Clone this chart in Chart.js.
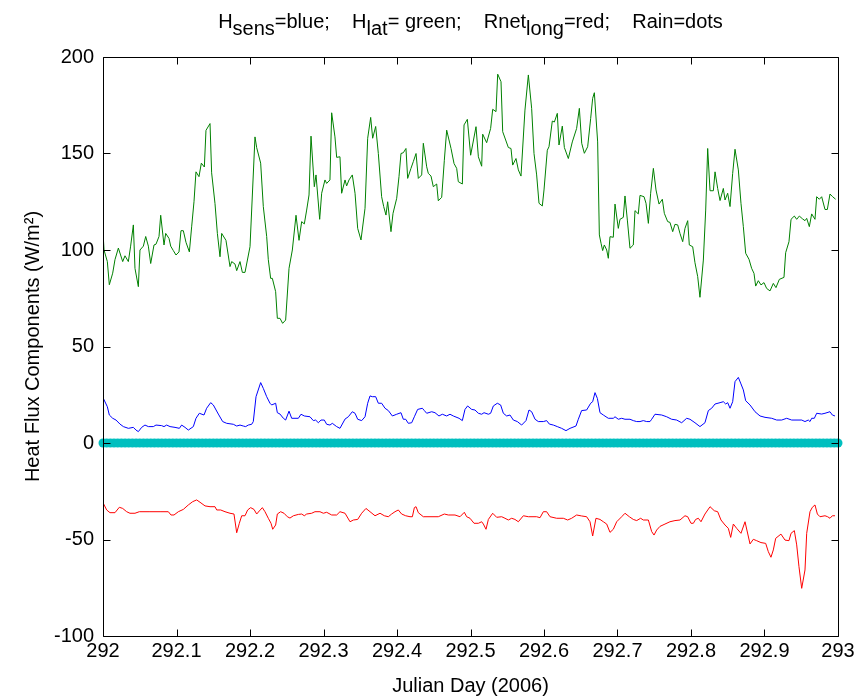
<!DOCTYPE html>
<html>
<head>
<meta charset="utf-8">
<script src="https://cdn.jsdelivr.net/npm/chart.js@4"></script>
<style>
  body { margin: 0; background: #fff; }
  canvas { display: block; }
</style>
</head>
<body>
<canvas id="myChart" width="862" height="700"></canvas>
<script>
'use strict';

// Julian day 292 (2006), times are fractions of the day
let dayStart = 292;

// H_lat (green)
let hlatTime = [
  0.0005,0.0014,0.0059,0.0086,0.0132,0.0163,0.0209,0.0268,0.0299,0.0345,0.0376,0.0413,0.0435,0.0481,0.0503,0.0549,0.0581,0.0617,0.0649,0.0694,
  0.0721,0.0762,0.0785,0.0830,0.0853,0.0898,0.0921,0.0957,0.0993,0.1034,0.1061,0.1093,0.1129,0.1175,0.1206,0.1238,0.1265,0.1306,0.1338,0.1379,
  0.1401,0.1456,0.1478,0.1524,0.1556,0.1592,0.1615,0.1673,0.1728,0.1751,0.1796,0.1819,0.1864,0.1896,0.1932,0.2000,0.2068,0.2091,0.2145,0.2181,
  0.2227,0.2249,0.2281,0.2304,0.2349,0.2372,0.2408,0.2444,0.2485,0.2531,0.2576,0.2626,0.2667,0.2703,0.2739,0.2771,0.2803,0.2830,0.2875,0.2898,
  0.2948,0.2975,0.3020,0.3043,0.3088,0.3111,0.3156,0.3179,0.3224,0.3247,0.3293,0.3315,0.3347,0.3392,0.3429,0.3465,0.3510,0.3565,0.3601,0.3642,
  0.3669,0.3710,0.3746,0.3791,0.3819,0.3850,0.3873,0.3918,0.3946,0.3996,0.4027,0.4054,0.4086,0.4122,0.4145,0.4190,0.4222,0.4259,0.4290,0.4336,
  0.4358,0.4404,0.4426,0.4463,0.4494,0.4540,0.4562,0.4608,0.4644,0.4676,0.4735,0.4776,0.4812,0.4834,0.4889,0.4912,0.4957,0.5002,0.5075,0.5107,
  0.5152,0.5166,0.5220,0.5274,0.5302,0.5347,0.5370,0.5415,0.5438,0.5515,0.5551,0.5574,0.5619,0.5651,0.5687,0.5741,0.5787,0.5832,0.5864,0.5900,
  0.5932,0.5977,0.6000,0.6045,0.6068,0.6113,0.6141,0.6181,0.6204,0.6249,0.6277,0.6331,0.6385,0.6444,0.6481,0.6513,0.6549,0.6594,0.6635,0.6662,
  0.6685,0.6730,0.6753,0.6776,0.6798,0.6821,0.6853,0.6875,0.6898,0.6943,0.6966,0.7011,0.7034,0.7079,0.7102,0.7134,0.7170,0.7215,0.7238,0.7283,
  0.7306,0.7361,0.7388,0.7420,0.7451,0.7488,0.7524,0.7565,0.7610,0.7637,0.7683,0.7714,0.7751,0.7782,0.7819,0.7850,0.7887,0.7918,0.7955,0.7977,
  0.8023,0.8054,0.8091,0.8122,0.8168,0.8200,0.8227,0.8259,0.8304,0.8327,0.8363,0.8395,0.8440,0.8463,0.8499,0.8531,0.8567,0.8599,0.8644,0.8680,
  0.8712,0.8744,0.8789,0.8825,0.8857,0.8880,0.8916,0.8952,0.8993,0.9029,0.9075,0.9120,0.9156,0.9202,0.9265,0.9288,0.9333,0.9361,0.9406,0.9438,
  0.9474,0.9515,0.9551,0.9574,0.9610,0.9642,0.9687,0.9710,0.9746,0.9778,0.9823,0.9855,0.9891,0.9927,0.9968
];
let hlat = [
  106,100,94,82,88,95,101,94,97,94,102,113,90.5,81,100,102,107,102,93,102.6,
  103,107,118,102.6,108.6,106,102,99.7,97.4,99,110,110,104,99,112,125,140.5,138,145,143,
  162,165.5,140,124,108.6,96.5,108.6,105,91.4,94,92.7,89.3,94,88.4,88.4,101.7,158.6,153,145,122.5,
  107,95,85.3,85.3,78.4,64.6,64.6,62,63.7,90.5,100,118,105,114.7,113.5,120.7,128.5,159,132.8,138.9,
  115.9,129.4,136.3,134.5,136.3,171.1,158.6,148,148.3,129.4,136.3,133.2,136.3,138.9,129.4,111.2,105.2,121.6,157.9,168.7,
  157.9,164,150,127.6,122.5,118.1,125,109.5,119,126.8,138,150,150.4,152.6,137.1,142.3,145.8,150,137.1,138.9,
  155.3,143.1,139.7,138.3,132.8,134.2,125.5,127.3,146.5,162.1,152.6,144.8,142.3,135.4,134.2,164.8,167.7,149.1,163.9,148.3,
  143.4,160,155.6,163,172.9,171.7,191.1,187.2,161.3,153.1,152.6,144,147.4,141.5,138.3,172.5,190.7,173.4,150,138.9,
  124.2,122.8,131.1,151.7,153.5,166.8,166.3,170.8,154.4,164.2,153.1,147.4,156,163,173.4,155.3,150.1,153.5,168.2,178.6,
  181.5,156,107.8,103.5,99.7,102.6,100,95.7,106.9,106.6,123.8,111.2,115.9,116.9,128,115.5,100.9,102.6,120.4,118.7,
  128.3,127.6,124.2,113.8,129.4,142.3,131.1,123.8,126.3,119,114.7,114.3,109.5,113.3,113,108.6,104.3,111.2,115.2,102.6,
  101.7,93.4,86.2,75.5,94.8,120.7,152.6,130.7,130.7,140.5,131.9,125.6,131.9,125.9,129.4,122.5,139.7,152.2,141.5,124.2,
  112.1,98.3,95.2,90.5,87.9,81.3,84.1,81.9,83.1,80.1,78.8,82.7,80.5,84.8,85.8,98.6,104.3,115.9,117.6,115.9,
  117.6,116.2,115.2,116.4,112.1,118.7,115.9,127.6,126.3,127.6,121,121,129,127.6,126.3
];

// H_sens (blue)
let hsensTime = [
  0.0005,0.0059,0.0086,0.0132,0.0177,0.0231,0.0277,0.0345,0.0413,0.0449,0.0481,0.0526,0.0571,0.0617,0.0685,0.0721,0.0798,0.0830,0.0866,0.0912,
  0.0980,0.1039,0.1070,0.1116,0.1161,0.1229,0.1265,0.1311,0.1374,0.1410,0.1465,0.1501,0.1569,0.1628,0.1683,0.1773,0.1819,0.1864,0.1909,0.1941,
  0.1977,0.2023,0.2045,0.2082,0.2145,0.2181,0.2227,0.2272,0.2295,0.2349,0.2372,0.2408,0.2454,0.2485,0.2531,0.2567,0.2658,0.2694,0.2739,0.2816,
  0.2862,0.2893,0.2930,0.2966,0.3011,0.3043,0.3088,0.3120,0.3179,0.3224,0.3293,0.3338,0.3392,0.3429,0.3465,0.3519,0.3565,0.3601,0.3633,0.3664,
  0.3710,0.3746,0.3791,0.3837,0.3882,0.3937,0.3996,0.4054,0.4086,0.4118,0.4154,0.4200,0.4236,0.4281,0.4345,0.4372,0.4404,0.4472,0.4517,0.4571,
  0.4617,0.4676,0.4721,0.4766,0.4844,0.4889,0.4925,0.4961,0.5016,0.5061,0.5107,0.5152,0.5184,0.5243,0.5274,0.5311,0.5365,0.5410,0.5447,0.5492,
  0.5537,0.5583,0.5637,0.5696,0.5755,0.5796,0.5832,0.5878,0.5923,0.5991,0.6036,0.6073,0.6127,0.6181,0.6240,0.6299,0.6354,0.6435,0.6467,0.6512,
  0.6580,0.6635,0.6662,0.6694,0.6726,0.6762,0.6807,0.6875,0.6943,0.6966,0.7011,0.7057,0.7102,0.7170,0.7215,0.7261,0.7306,0.7351,0.7397,0.7442,
  0.7465,0.7510,0.7601,0.7669,0.7737,0.7805,0.7873,0.7941,0.7986,0.8054,0.8122,0.8190,0.8236,0.8281,0.8327,0.8395,0.8440,0.8472,0.8499,0.8531,
  0.8567,0.8599,0.8644,0.8680,0.8712,0.8744,0.8803,0.8871,0.8939,0.9007,0.9098,0.9166,0.9234,0.9302,0.9370,0.9506,0.9551,0.9596,0.9619,0.9642,
  0.9678,0.9710,0.9778,0.9823,0.9891,0.9923,0.9959
];
let hsens = [
  23.1,18.8,14.5,12.8,11.9,9.8,8.5,7.6,8.1,6.7,5.9,8.1,9.3,8.5,8.5,9.3,9,8.5,9.3,8.5,
  8.1,7.6,9.3,8.1,6.7,8.5,12.8,15.4,14.5,18,20.9,19.7,15,11.1,10.2,9.7,8.8,9.3,8.8,8.5,
  9.3,9.7,11.1,24,31.3,28.3,24,20.6,19.7,20.6,15.7,15,12.8,11.9,16.5,12.8,12.8,14.9,14,13.6,
  11.6,11.9,10.5,11.9,11.9,9.7,9.3,10.2,8.5,7.6,12.4,13.6,16.2,15.4,12.3,11.6,13.6,20.6,24.4,24,
  24,20.6,20.6,18,16.8,14,14.9,15.7,12.3,12.3,10.2,10.5,13.6,17.4,18,16.8,15.4,16.2,15.7,14,
  14.9,14,14.9,14,12.8,11.6,17.4,19.2,17.4,17.1,15.4,14.9,15.7,14.9,15.4,19.2,20.6,19.7,15.4,14,
  14.5,11.9,11.1,9.3,11.6,17.1,16.2,12.3,11.1,11.1,11.6,9.8,9.3,8.5,7.6,6.4,7.6,8.8,12.3,16.8,
  17.1,20.6,21.4,26.1,23.1,15.7,14.5,12.8,12.8,13.6,12.3,12.8,12.3,12.3,11.6,11.1,11.1,11.6,11.1,11.1,
  12.3,14.9,14.5,13.6,12.3,11.9,10.5,12.8,12.3,10.5,8.5,10.5,16.8,18,20.2,20.9,21.4,20.2,20.9,18,
  21.4,31.8,34,30.6,27.5,21.9,19.7,16.2,14,13.3,12.8,11.9,11.9,12.8,11.9,11.9,11.1,11.9,11.1,12.8,
  12.8,15.4,15,15.4,16.2,14.5,14
];

// Rnet_long (red)
let rnetTime = [
  0.0005,0.0050,0.0095,0.0163,0.0222,0.0268,0.0322,0.0367,0.0435,0.0494,0.0639,0.0776,0.0889,0.0925,0.0966,0.1025,0.1093,0.1161,0.1220,0.1274,
  0.1320,0.1388,0.1456,0.1524,0.1547,0.1601,0.1660,0.1728,0.1782,0.1819,0.1855,0.1887,0.1932,0.1968,0.2009,0.2054,0.2091,0.2127,0.2168,0.2204,
  0.2249,0.2286,0.2309,0.2349,0.2372,0.2417,0.2463,0.2508,0.2544,0.2590,0.2658,0.2703,0.2739,0.2771,0.2839,0.2884,0.2952,0.2998,0.3043,0.3111,
  0.3179,0.3224,0.3293,0.3361,0.3406,0.3465,0.3519,0.3578,0.3633,0.3701,0.3769,0.3828,0.3882,0.3927,0.3973,0.4018,0.4063,0.4118,0.4177,0.4209,
  0.4236,0.4259,0.4290,0.4358,0.4562,0.4644,0.4698,0.4789,0.4857,0.4916,0.4948,0.4993,0.5048,0.5107,0.5152,0.5175,0.5211,0.5243,0.5302,0.5356,
  0.5424,0.5469,0.5515,0.5560,0.5605,0.5651,0.5719,0.5787,0.5900,0.5946,0.5991,0.6036,0.6082,0.6172,0.6263,0.6322,0.6376,0.6444,0.6512,0.6580,
  0.6626,0.6662,0.6707,0.6762,0.6807,0.6853,0.6898,0.6943,0.6989,0.7057,0.7102,0.7161,0.7215,0.7261,0.7315,0.7351,0.7420,0.7465,0.7497,0.7533,
  0.7578,0.7646,0.7714,0.7782,0.7850,0.7918,0.7955,0.8000,0.8032,0.8063,0.8100,0.8136,0.8190,0.8259,0.8317,0.8363,0.8408,0.8463,0.8508,0.8540,
  0.8576,0.8621,0.8680,0.8735,0.8803,0.8848,0.8893,0.8952,0.9016,0.9052,0.9088,0.9120,0.9152,0.9224,0.9279,0.9333,0.9361,0.9406,0.9438,0.9469,
  0.9506,0.9551,0.9574,0.9619,0.9651,0.9687,0.9719,0.9755,0.9823,0.9859,0.9891,0.9923,0.9959
];
let rnet = [
  -31.3,-34.7,-36.1,-36.1,-33.3,-33.9,-35.6,-36.4,-36.4,-35.6,-35.6,-35.6,-35.6,-37.3,-37.3,-35.6,-34.4,-32.1,-30.4,-29.5,
  -30.7,-32.6,-33,-33,-34.7,-34.7,-35.6,-36.4,-36.8,-46.5,-41.6,-37.7,-37.7,-34.7,-33.5,-34.4,-36.8,-35.2,-33.5,-35.6,
  -39,-41.6,-44.7,-42.5,-36.8,-35.6,-36.4,-38.2,-38.9,-37.7,-37,-36.8,-37.7,-36.8,-36.4,-35.6,-35.6,-36.4,-35.9,-37.3,
  -37.3,-35.6,-36.4,-40.8,-39.9,-39.6,-36.4,-33.9,-35.6,-37.7,-36.4,-37.7,-38.2,-36.8,-35.6,-34.7,-36.8,-37.7,-38.2,-38.2,
  -33.5,-33,-36.1,-38.2,-38.2,-36.8,-37.3,-37.3,-38.2,-35.9,-38.2,-39,-41.6,-41.6,-40.8,-42,-44.7,-39.6,-36.4,-38.5,
  -38.2,-39,-39.9,-39,-39.6,-40.8,-37.7,-38.2,-38.2,-38.7,-35.6,-35.6,-38.2,-39,-39,-39.9,-39,-37.3,-37.8,-38.2,
  -40.8,-48.2,-39,-39.6,-40.8,-42,-46.3,-44.7,-40.8,-38.2,-36.4,-38.2,-39.6,-40.2,-39,-39.9,-39.9,-45.9,-47.7,-45.1,
  -43.2,-42,-40.8,-40.2,-39.9,-37.7,-38.2,-41.6,-41.6,-39.6,-39,-40.8,-36.8,-33,-35.1,-35.6,-39.9,-42.5,-44.2,-48.9,
  -42,-44.2,-46.8,-40.8,-52.3,-49.9,-50.6,-51.6,-52,-56.3,-59.2,-55.4,-49.4,-47.2,-50.3,-50.6,-46.8,-45.4,-52.8,-64.1,
  -75.3,-65.8,-46.8,-35.6,-33.3,-32.1,-36.8,-38.2,-37.7,-38.2,-39,-37.7,-37.7
];

// Rain (dots) - zero all day
let rainTime = [
  0,0.005,0.01,0.015,0.02,0.025,0.03,0.035,0.04,0.045,0.05,0.055,0.06,0.065,0.07,0.075,0.08,0.085,0.09,0.095,
  0.1,0.105,0.11,0.115,0.12,0.125,0.13,0.135,0.14,0.145,0.15,0.155,0.16,0.165,0.17,0.175,0.18,0.185,0.19,0.195,
  0.2,0.205,0.21,0.215,0.22,0.225,0.23,0.235,0.24,0.245,0.25,0.255,0.26,0.265,0.27,0.275,0.28,0.285,0.29,0.295,
  0.3,0.305,0.31,0.315,0.32,0.325,0.33,0.335,0.34,0.345,0.35,0.355,0.36,0.365,0.37,0.375,0.38,0.385,0.39,0.395,
  0.4,0.405,0.41,0.415,0.42,0.425,0.43,0.435,0.44,0.445,0.45,0.455,0.46,0.465,0.47,0.475,0.48,0.485,0.49,0.495,
  0.5,0.505,0.51,0.515,0.52,0.525,0.53,0.535,0.54,0.545,0.55,0.555,0.56,0.565,0.57,0.575,0.58,0.585,0.59,0.595,
  0.6,0.605,0.61,0.615,0.62,0.625,0.63,0.635,0.64,0.645,0.65,0.655,0.66,0.665,0.67,0.675,0.68,0.685,0.69,0.695,
  0.7,0.705,0.71,0.715,0.72,0.725,0.73,0.735,0.74,0.745,0.75,0.755,0.76,0.765,0.77,0.775,0.78,0.785,0.79,0.795,
  0.8,0.805,0.81,0.815,0.82,0.825,0.83,0.835,0.84,0.845,0.85,0.855,0.86,0.865,0.87,0.875,0.88,0.885,0.89,0.895,
  0.9,0.905,0.91,0.915,0.92,0.925,0.93,0.935,0.94,0.945,0.95,0.955,0.96,0.965,0.97,0.975,0.98,0.985,0.99,0.995,
  1
];
let rain = [
  0,0,0,0,0,0,0,0,0,0,0,0,0,0,0,0,0,0,0,0,
  0,0,0,0,0,0,0,0,0,0,0,0,0,0,0,0,0,0,0,0,
  0,0,0,0,0,0,0,0,0,0,0,0,0,0,0,0,0,0,0,0,
  0,0,0,0,0,0,0,0,0,0,0,0,0,0,0,0,0,0,0,0,
  0,0,0,0,0,0,0,0,0,0,0,0,0,0,0,0,0,0,0,0,
  0,0,0,0,0,0,0,0,0,0,0,0,0,0,0,0,0,0,0,0,
  0,0,0,0,0,0,0,0,0,0,0,0,0,0,0,0,0,0,0,0,
  0,0,0,0,0,0,0,0,0,0,0,0,0,0,0,0,0,0,0,0,
  0,0,0,0,0,0,0,0,0,0,0,0,0,0,0,0,0,0,0,0,
  0,0,0,0,0,0,0,0,0,0,0,0,0,0,0,0,0,0,0,0,
  0
];

let yTicks = [-100, -50, 0, 50, 100, 150, 200];
let xLabel = 'Julian Day (2006)';
let yLabel = 'Heat Flux Components (W/m\u00B2)';
// title pieces: [text, isSubscript]
let titleParts = [
  ['H', 0], ['sens', 1], ['=blue;    H', 0], ['lat', 1], ['= green;    Rnet', 0], ['long', 1], ['=red;    Rain=dots', 0]
];

let fontName = '"Liberation Sans", Arial, sans-serif';

function toPoints(times, vals) {
  let pts = [];
  for (let i = 0; i < times.length; i++) {
    pts.push({ x: dayStart + times[i], y: vals[i] });
  }
  return pts;
}

// MATLAB style box with inward ticks
let boxPlugin = {
  id: 'box',
  afterDraw(chart) {
    let ctx = chart.ctx;
    let a = chart.chartArea;
    let xs = chart.scales.x;
    let ys = chart.scales.y;
    let L = Math.round(a.left) + 0.5;
    let R = Math.round(a.right) + 0.5;
    let T = Math.round(a.top) + 0.5;
    let B = Math.round(a.bottom) + 0.5;
    ctx.save();
    ctx.strokeStyle = '#000';
    ctx.lineWidth = 1;
    ctx.beginPath();
    ctx.rect(L, T, R - L, B - T);
    xs.ticks.forEach(t => {
      let px = Math.round(xs.getPixelForValue(t.value)) + 0.5;
      ctx.moveTo(px, B); ctx.lineTo(px, B - 7);
      ctx.moveTo(px, T); ctx.lineTo(px, T + 7);
    });
    ys.ticks.forEach(t => {
      let py = Math.round(ys.getPixelForValue(t.value)) + 0.5;
      ctx.moveTo(L, py); ctx.lineTo(L + 7, py);
      ctx.moveTo(R, py); ctx.lineTo(R - 7, py);
    });
    ctx.stroke();
    ctx.restore();
  }
};

// title with subscripts (same size, lowered)
let titlePlugin = {
  id: 'richTitle',
  afterDraw(chart) {
    let ctx = chart.ctx;
    let a = chart.chartArea;
    ctx.save();
    ctx.fillStyle = '#000';
    ctx.textBaseline = 'alphabetic';
    ctx.font = '20px ' + fontName;
    let total = 0;
    titleParts.forEach(p => { total += ctx.measureText(p[0]).width; });
    let x = (a.left + a.right) / 2 - total / 2;
    titleParts.forEach(p => {
      ctx.fillText(p[0], x, p[1] ? 35 : 28);
      x += ctx.measureText(p[0]).width;
    });
    ctx.restore();
  }
};

let ctx = document.getElementById('myChart').getContext('2d');
let myChart = new Chart(ctx, {
  type: 'line',
  data: {
    datasets: [{
      label: 'Rain',
      data: toPoints(rainTime, rain),
      showLine: false,
      pointRadius: 4.5,
      pointBorderWidth: 0,
      pointBackgroundColor: '#00bfbf',
      borderColor: '#00bfbf',
      clip: false
    }, {
      label: 'H_sens',
      data: toPoints(hsensTime, hsens),
      borderColor: '#0000ff',
      borderWidth: 1,
      pointRadius: 0
    }, {
      label: 'H_lat',
      data: toPoints(hlatTime, hlat),
      borderColor: '#008000',
      borderWidth: 1,
      pointRadius: 0
    }, {
      label: 'Rnet_long',
      data: toPoints(rnetTime, rnet),
      borderColor: '#ff0000',
      borderWidth: 1,
      pointRadius: 0
    }]
  },
  options: {
    responsive: false,
    animation: false,
    layout: { padding: { top: 57, right: 24, left: 0, bottom: 0 } },
    plugins: {
      legend: { display: false },
      tooltip: { enabled: false }
    },
    scales: {
      x: {
        type: 'linear',
        min: dayStart,
        max: dayStart + 1,
        grid: { display: false, drawTicks: false },
        border: { display: false },
        ticks: {
          stepSize: 0.1,
          color: '#000',
          padding: 3,
          maxRotation: 0,
          font: { family: fontName, size: 20 },
          callback: v => String(Math.round(v * 10) / 10)
        },
        title: {
          display: true,
          text: xLabel,
          color: '#000',
          font: { family: fontName, size: 20 },
          padding: { top: 0, bottom: 2 }
        },
        afterFit: s => { s.height = 64; }
      },
      y: {
        min: yTicks[0],
        max: yTicks[yTicks.length - 1],
        grid: { display: false, drawTicks: false },
        border: { display: false },
        afterBuildTicks: s => { s.ticks = yTicks.map(v => ({ value: v })); },
        ticks: {
          color: '#000',
          padding: 9,
          font: { family: fontName, size: 20 }
        },
        title: {
          display: true,
          text: yLabel,
          color: '#000',
          font: { family: fontName, size: 20 },
          padding: { top: 21, bottom: 0 }
        },
        afterFit: s => { s.width = 103; }
      }
    }
  },
  plugins: [boxPlugin, titlePlugin]
});
</script>
</body>
</html>
